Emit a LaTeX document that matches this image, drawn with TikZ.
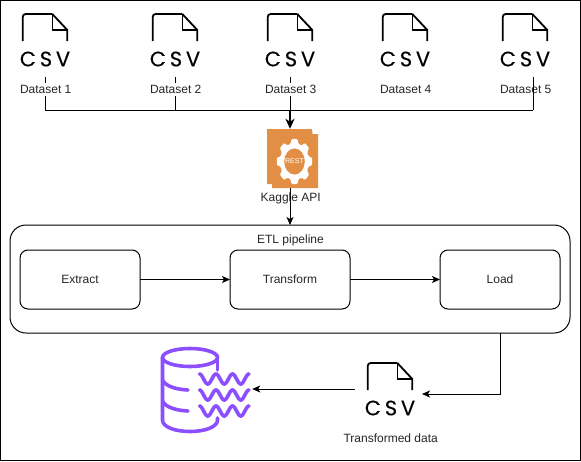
\documentclass[tikz,border=0pt]{standalone}
\usepackage{fontspec}
\setmainfont{Liberation Sans}
\newfontfamily\csvfont[LetterSpace=18, FakeBold=0.2]{Poppins}
\usetikzlibrary{arrows.meta, positioning}
\definecolor{apiorange}{HTML}{E28F45}
\definecolor{lakepurple}{HTML}{8C4FFF}
\tikzstyle{block} = [rectangle, draw, line width=1pt, outer sep=0pt, rounded corners=8pt, minimum width=120pt, minimum height=59pt, inner sep=0pt, font=\fontsize{12}{14}\selectfont, text=black!85]
\tikzstyle{pipeline} = [rectangle, draw, line width=1pt, outer sep=0pt, rounded corners=16pt, minimum width=560pt, minimum height=108pt, inner sep=0pt]
\tikzstyle{tag} = [inner sep=1pt, text height=9pt, text depth=2pt, font=\fontsize{12}{14}\selectfont, text=black!85]
\tikzstyle{dsname} = [tag, fill=white]
\tikzstyle{csvtext} = [inner sep=0pt, minimum height=36pt, font=\csvfont\fontsize{21}{21}\selectfont]
\tikzstyle{wire} = [draw, line width=1pt]
\tikzstyle{line} = [draw, line width=1pt, -{Stealth[length=8pt,width=7pt,inset=2pt]}]
\tikzstyle{thickline} = [draw, line width=1.7pt, -{Stealth[length=10pt,width=9pt,inset=3pt]}]
\tikzstyle{lakepen} = [draw=lakepurple, line width=3.6pt, line cap=round]
\tikzset{
  csvfile/.pic={
    \draw [line width=1.8pt, rounded corners=3pt] (-22.3,27) -- (-22.3,0) -- (7.3,0);
    \draw [line width=1.8pt] (7.3,0) -- (22.3,16) -- (22.3,27);
    \draw [line width=1.2pt] (7.3,0) -- (7.3,16) -- (22.3,16);
    \node [csvtext] (-text) at (0,45) {CSV};
  }
}

\begin{document}
\begin{tikzpicture}[x=1pt, y=-1pt]
        \useasboundingbox (0,0) rectangle (581,461);
        \draw [line width=1pt] (0.5,0.5) rectangle (580,460);

        % Files
        \pic (csv1) at (45,14) {csvfile};
        \pic (csv2) at (175,14) {csvfile};
        \pic (csv3) at (290,14) {csvfile};
        \pic (csv4) at (405,14) {csvfile};
        \pic (csv5) at (525,14) {csvfile};
        \pic (csvt) at (390,363) {csvfile};
        \coordinate (bus) at (290,110);
        \coordinate (tap5) at (533,77);

        % API
        \node [minimum width=51pt, minimum height=59pt, inner sep=0pt] (api) at (292.5,158.5) {};
        \fill [apiorange] (267,129) -- (312,129) -- (312.5,134) -- (318,134) -- (318,188) -- (272,188) -- (272,184) -- (267,184) -- cycle;
        \begin{scope}[shift={(294.5,161.5)}, yscale=1.27]
            \fill [white, rounded corners=1.2pt] (-15:14.5) \foreach \a in {0,45,...,315} { -- (\a-15:14.5) -- (\a-10:18) -- (\a+10:18) -- (\a+15:14.5) } -- cycle;
            \fill [apiorange] (0,0) circle (10.3);
        \end{scope}
        \node [inner sep=0pt, text=white, font=\fontsize{7}{8}\selectfont] (rest) at (294.5,161.5) {REST};

        % Pipeline
        \node [pipeline] (etl) at (290,279) {};
        \node [tag] (etlname) at (290.5,240) {ETL pipeline};
        \node [block] (extract) at (80,279.5) {Extract};
        \node [block, right=90pt of extract] (transform) {Transform};
        \node [block, right=90pt of transform] (load) {Load};

        % Lake
        \node [minimum width=93pt, minimum height=88pt, inner sep=0pt] (lake) at (205.5,389) {};
        \draw [lakepen] (190,357.5) ellipse [x radius=27.5, y radius=9];
        \draw [lakepen] (217.5,357.5) -- (217.5,370);
        \draw [lakepen] (162.5,357.5) -- (162.5,420) .. controls (162.5,427) and (175,431.5) .. (190,431.5) .. controls (205,431.5) and (217.5,427) .. (217.5,420) -- (217.5,418);
        \draw [lakepen] (162.5,380) .. controls (165,386) and (176,389.5) .. (188,390);
        \draw [lakepen] (162.5,401) .. controls (165,407) and (176,410.5) .. (188,411);
        \foreach \wy in {379,395,411} {
            \draw [lakepen] plot [domain=0:1080, samples=145] ({199.5+\x/1080*49.5},{\wy-5*cos(\x)});
        }

        % Lines
        \path [wire] (csv1-text.south) |- (bus -| tap5);
        \path [wire] (csv2-text.south) -- (csv2-text.south |- bus);
        \path [wire] (csv3-text.south) -- (bus);
        \path [thickline] (bus) -- (bus |- api.north);
        \path [line] (bus |- api.south) -- (bus |- etl.north);
        \path [line] (extract) -- (transform);
        \path [line] (transform) -- (load);
        \coordinate (intake) at (422,394);
        \coordinate (outlet) at (355,389);
        \path [line] (load.south |- etl.south) |- (intake);
        \path [line] (outlet) -- (lake.east);

        % Names
        \node [dsname, below of=csv1-text, node distance=30.5pt, xshift=0.7pt] (ds1) {Dataset 1};
        \node [dsname, below of=csv2-text, node distance=30.5pt, xshift=0.7pt] (ds2) {Dataset 2};
        \node [dsname, below of=csv3-text, node distance=30.5pt, xshift=0.7pt] (ds3) {Dataset 3};
        \node [dsname, below of=csv4-text, node distance=30.5pt, xshift=0.7pt] (ds4) {Dataset 4};
        \node [tag, below of=csv5-text, node distance=30.5pt, xshift=0.7pt] (ds5) {Dataset 5};
        \path [wire] (tap5) -- (tap5 |- bus);
        \node [tag] (apiname) at (290.7,197.5) {Kaggle API};
        \node [tag, below of=csvt-text, node distance=30.5pt, xshift=0.7pt] (dst) {Transformed data};
    \end{tikzpicture}
\end{document}
